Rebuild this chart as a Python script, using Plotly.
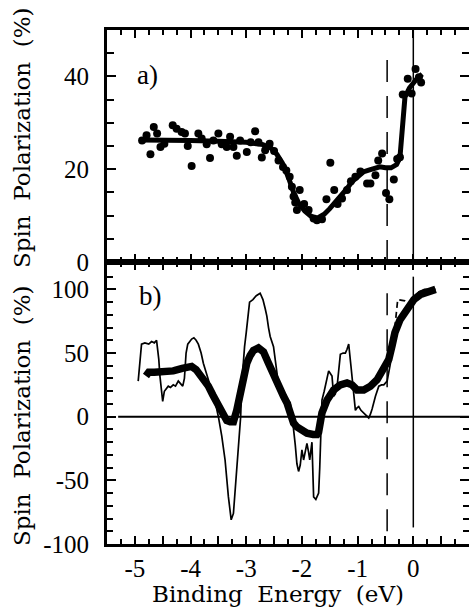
import plotly.graph_objects as go

# ---------------- data ----------------
# panel a) measured points
a_pts_x = [-4.87, -4.79, -4.72, -4.66, -4.60, -4.54, -4.47, -4.32, -4.25, -4.16, -4.10, -4.05, -3.98,
           -3.86, -3.80, -3.71, -3.65, -3.59, -3.50, -3.44, -3.35, -3.29, -3.23, -3.17, -3.11, -2.99,
           -2.92, -2.84, -2.78, -2.72, -2.66, -2.58, -2.50, -2.42, -2.34, -2.28, -2.22, -2.18, -2.15,
           -2.12, -2.09, -2.04, -1.96, -1.88, -1.79, -1.73, -1.64, -1.56, -1.49, -1.42, -1.36, -1.28,
           -1.19, -1.12, -1.04, -0.95, -0.83, -0.77, -0.68, -0.63, -0.56, -0.49, -0.43, -0.35, -0.29,
           -0.24, -0.19, -0.10, -0.03, 0.04, 0.10, 0.14]
a_pts_y = [26.2, 27.3, 23.2, 29.1, 27.7, 24.8, 25.5, 29.5, 28.7, 28.0, 27.7, 25.0, 20.7,
           27.7, 26.6, 25.4, 22.4, 26.2, 27.7, 25.4, 24.8, 27.0, 24.8, 22.9, 26.2, 23.7,
           25.8, 28.2, 25.8, 22.5, 24.1, 25.5, 23.9, 21.9, 20.5, 19.7, 18.4, 16.2, 14.1,
           12.8, 11.2, 15.5, 12.5, 11.2, 9.4, 9.0, 9.2, 13.5, 21.4, 15.5, 12.5, 13.7,
           15.5, 17.4, 18.4, 19.5, 16.9, 16.9, 18.7, 21.9, 23.4, 14.9, 13.5, 17.8, 22.2,
           22.6, 36.1, 39.5, 36.3, 41.6, 39.8, 38.7]
# panel a) smooth curve
a_fit_x = [-4.87, -4.5, -4.0, -3.5, -3.0, -2.7, -2.55, -2.45, -2.35, -2.25, -2.15, -2.05, -1.95,
           -1.85, -1.78, -1.7, -1.6, -1.5, -1.4, -1.3, -1.2, -1.1, -1.0, -0.9, -0.8, -0.7, -0.6,
           -0.5, -0.4, -0.3, -0.24, -0.15, -0.07, 0.05, 0.16]
a_fit_y = [26.3, 26.3, 26.2, 26.0, 25.8, 25.3, 24.5, 23.2, 21.3, 18.5, 15.0, 12.5, 11.0,
           10.0, 9.5, 9.6, 10.3, 11.5, 12.8, 14.2, 15.7, 17.3, 18.5, 19.4, 19.8, 20.2, 20.5,
           20.3, 20.3, 21.0, 22.5, 35.5, 37.5, 39.3, 40.5]

# panel b) thin calculated curve
b_thin_x = [-4.94, -4.90, -4.88, -4.82, -4.75, -4.70, -4.65, -4.61, -4.57, -4.55, -4.52, -4.50, -4.47,
            -4.43, -4.40, -4.36, -4.31, -4.27, -4.22, -4.18, -4.14, -4.11, -4.08, -4.05, -4.01, -3.98,
            -3.94, -3.90, -3.86, -3.81, -3.77, -3.72, -3.68, -3.63, -3.59, -3.54, -3.50, -3.44, -3.38,
            -3.32, -3.27, -3.23, -3.17, -3.13, -3.10, -3.08, -3.06, -3.03, -3.00, -2.97, -2.94, -2.88,
            -2.82, -2.75, -2.70, -2.66, -2.63, -2.60, -2.57, -2.51, -2.48, -2.45, -2.42, -2.39, -2.30,
            -2.21, -2.18, -2.15, -2.12, -2.09, -2.06, -2.03, -2.00, -1.97, -1.94, -1.91, -1.88, -1.86,
            -1.82, -1.80, -1.79, -1.75, -1.70, -1.68, -1.67, -1.64, -1.60, -1.58, -1.55, -1.52, -1.49,
            -1.46, -1.43, -1.40, -1.37, -1.34, -1.31, -1.26, -1.22, -1.19, -1.16, -1.12, -1.10, -1.07,
            -1.04, -1.01, -0.98, -0.94, -0.89, -0.85, -0.80, -0.77, -0.74, -0.68, -0.62, -0.57, -0.53,
            -0.47, -0.41, -0.37, -0.33, -0.27, -0.20, -0.12, -0.05, 0.03, 0.10, 0.20, 0.40]
b_thin_y = [28, 45, 57, 58, 57, 59, 58, 60, 45, 32, 18, 12, 20,
            22, 24, 23, 25, 24, 28, 26, 24, 30, 50, 57, 59, 61,
            62, 60, 57, 50, 42, 35, 30, 23, 16, 8, 0, -15, -34,
            -63, -81, -76, -42, -15, 0, 26, 40, 55, 66, 80, 90, 92,
            95, 97, 92, 85, 79, 70, 63, 55, 45, 34, 25, 19, 15,
            11, 2, -8, -22, -37, -43, -38, -26, -34, -28, -21, -28, -34,
            -20, -40, -63, -65, -60, -40, -20, 13, 20, 24, 30, 36, 34,
            32, 16, 18, 23, 35, 49, 50, 50, 53, 57, 40, 30, 15,
            5, 7, 8, 5, 3, 1, -1, 2, 6, 16, 24, 25, 25,
            28, 42, 55, 66, 75, 80, 85, 89, 94, 98, 100, 100]
# panel b) dashed curve near the Fermi level
b_dash_x = [-0.35, -0.31, -0.29, -0.28, -0.15, -0.05]
b_dash_y = [62, 80, 88, 92, 91, 88]
# panel b) thick (smoothed) curve
b_thick_x = [-4.80, -4.75, -4.65, -4.55, -4.45, -4.31, -4.15, -4.05, -3.98, -3.90, -3.83, -3.75, -3.68,
             -3.60, -3.53, -3.47, -3.41, -3.35, -3.29, -3.23, -3.17, -3.12, -3.08, -3.03, -2.99, -2.93,
             -2.87, -2.78, -2.69, -2.60, -2.51, -2.45, -2.39, -2.33, -2.27, -2.20, -2.15, -2.09, -2.03,
             -1.91, -1.80, -1.73, -1.70, -1.67, -1.64, -1.55, -1.43, -1.31, -1.19, -1.10, -1.01, -0.89,
             -0.77, -0.65, -0.53, -0.44, -0.38, -0.33, -0.24, -0.15, -0.09, 0.01, 0.13, 0.28, 0.40]
b_thick_y = [32, 35, 35, 35, 35, 36, 38, 39.5, 39.5, 37, 33, 28, 24,
             17, 11, 5, 0, -3, -4, -4, 5, 16, 26, 36, 42, 48,
             52, 54, 51, 42, 32, 26, 21, 16, 11, 2, -5, -8, -10,
             -13, -14, -14, -12, -4, 3, 13, 21, 25, 26.5, 25, 21, 21,
             24, 29, 37, 45, 56, 66, 76, 82, 86, 92, 96, 98.7, 100]

x_major = [-5.5, -5.0, -4.5, -4.0, -3.5, -3.0, -2.5, -2.0, -1.5, -1.0, -0.5, 0.0, 0.5, 1.0]
x_labels = ["", "-5", "", "-4", "", "-3", "", "-2", "", "-1", "", "0", "", ""]
ya_ticks = [0, 20, 40]
ya_labels = ["0", "20", "40"]
yb_ticks = [-100, -50, 0, 50, 100]
yb_labels = ["-100", "-50", "0", "50", "100"]

FONT = "Liberation Serif"
TFONT = "DejaVu Serif"
BLACK = "black"

fig = go.Figure()

fig.add_trace(go.Scatter(x=a_fit_x, y=a_fit_y, mode="lines", line=dict(color=BLACK, width=5),
                         xaxis="x", yaxis="y", showlegend=False))
fig.add_trace(go.Scatter(x=a_pts_x, y=a_pts_y, mode="markers", marker=dict(color=BLACK, size=8),
                         xaxis="x", yaxis="y", showlegend=False))
fig.add_trace(go.Scatter(x=b_thin_x, y=b_thin_y, mode="lines", line=dict(color=BLACK, width=1.7),
                         xaxis="x2", yaxis="y2", showlegend=False))
fig.add_trace(go.Scatter(x=b_dash_x, y=b_dash_y, mode="lines", line=dict(color=BLACK, width=1.7, dash="6px,4px"),
                         xaxis="x2", yaxis="y2", showlegend=False))
fig.add_trace(go.Scatter(x=b_thick_x, y=b_thick_y, mode="lines", line=dict(color=BLACK, width=7.5),
                         xaxis="x2", yaxis="y2", showlegend=False))

xr = [-5.5, 1.0]
axis_common = dict(showline=True, linewidth=3, linecolor=BLACK, mirror="ticks", ticks="inside",
                   tickcolor=BLACK, tickwidth=2, showgrid=False, zeroline=False, automargin=False,
                   tickfont=dict(family=FONT, size=25, color=BLACK))

fig.update_layout(
    width=469, height=612,
    margin=dict(l=107, r=0, t=30, b=68),
    paper_bgcolor="white", plot_bgcolor="white",
    font=dict(family=FONT, color=BLACK),
    xaxis=dict(domain=[0, 1], range=xr, anchor="y", tickmode="array", tickvals=x_major,
               ticktext=x_labels, showticklabels=False, ticklen=8,
               minor=dict(dtick=0.25, tick0=0, ticklen=5, ticks="inside", tickcolor=BLACK, tickwidth=2),
               **axis_common),
    yaxis=dict(domain=[0.5486, 1], range=[0, 50], anchor="x", tickmode="array", tickvals=ya_ticks,
               ticktext=ya_labels, ticklen=9, ticklabelstandoff=10,
               minor=dict(dtick=5, tick0=0, ticklen=7, ticks="inside", tickcolor=BLACK, tickwidth=2),
               **axis_common),
    xaxis2=dict(domain=[0, 1], range=xr, anchor="y2", tickmode="array", tickvals=x_major,
                ticktext=x_labels, ticklen=8,
                minor=dict(dtick=0.25, tick0=0, ticklen=5, ticks="inside", tickcolor=BLACK, tickwidth=2),
                **axis_common),
    yaxis2=dict(domain=[0, 0.5486], range=[-100, 121.5], anchor="x2", tickmode="array", tickvals=yb_ticks,
                ticktext=yb_labels, ticklen=9, ticklabelstandoff=10,
                minor=dict(dtick=10, tick0=0, ticklen=6, ticks="inside", tickcolor=BLACK, tickwidth=2),
                **axis_common),
)

# reference lines
fig.add_shape(type="line", xref="x", yref="y", x0=0, x1=0, y0=0, y1=50, line=dict(color=BLACK, width=1.5))
fig.add_shape(type="line", xref="x", yref="y", x0=-0.47, x1=-0.47, y0=0, y1=46,
              line=dict(color=BLACK, width=1.5, dash="22px,14px"))
fig.add_shape(type="line", xref="x2", yref="y2", x0=0, x1=0, y0=-87, y1=110, line=dict(color=BLACK, width=1.5))
fig.add_shape(type="line", xref="x2", yref="y2", x0=-0.47, x1=-0.47, y0=-90, y1=97,
              line=dict(color=BLACK, width=1.5, dash="22px,14px"))
fig.add_shape(type="line", xref="x2", yref="y2", x0=-5.3, x1=1.0, y0=0, y1=0, line=dict(color=BLACK, width=2))

# panel labels
fig.add_annotation(x=-4.78, y=40.3, xref="x", yref="y", text="a)", showarrow=False,
                   font=dict(family=FONT, size=27, color=BLACK))
fig.add_annotation(x=-4.72, y=94.5, xref="x2", yref="y2", text="b)", showarrow=False,
                   font=dict(family=FONT, size=27, color=BLACK))

# axis titles
def px_x(px):
    return (px - 107) / 362.0

def px_y(py):
    return (544 - py) / 514.0

title_font = dict(family=TFONT, size=23, color=BLACK)
fig.add_annotation(x=px_x(22), y=px_y(138), xref="paper", yref="paper", text="Spin  Polarization  (%)",
                   textangle=-90, showarrow=False, xanchor="center", yanchor="middle", font=title_font)
fig.add_annotation(x=px_x(22), y=px_y(416), xref="paper", yref="paper", text="Spin  Polarization  (%)",
                   textangle=-90, showarrow=False, xanchor="center", yanchor="middle", font=title_font)
fig.add_annotation(x=px_x(278), y=px_y(594), xref="paper", yref="paper", text="Binding  Energy  (eV)",
                   showarrow=False, xanchor="center", yanchor="middle", font=title_font)

fig.write_html("out.html", config={"displayModeBar": False},
               post_script="document.body.style.margin='0px';document.body.style.overflow='hidden';")
